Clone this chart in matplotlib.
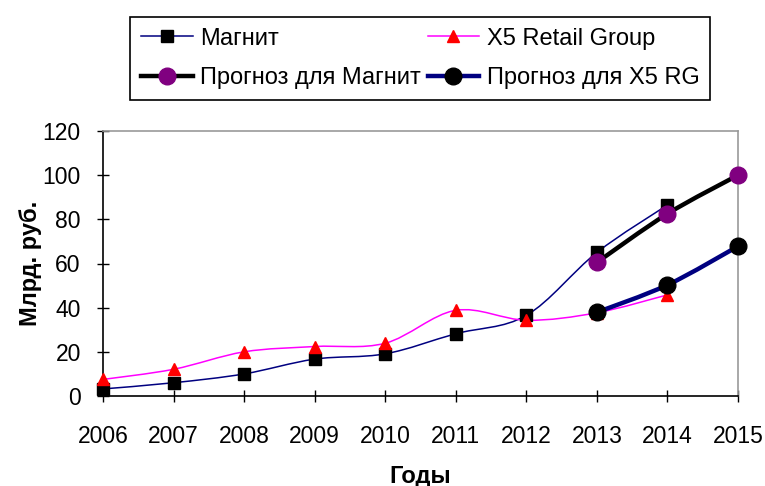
import matplotlib
matplotlib.use('Agg')
import matplotlib.pyplot as plt
from matplotlib.path import Path
from matplotlib.patches import PathPatch
from matplotlib.lines import Line2D

plt.rcParams['font.family'] = ['Liberation Sans', 'DejaVu Sans']

# ========== Data ==========
years = [2006, 2007, 2008, 2009, 2010, 2011, 2012, 2013, 2014]
magnit = [3.2, 6.0, 10.0, 16.7, 19.1, 28.2, 36.5, 65.0, 86.5]
x5 = [7.5, 12.1, 20.0, 22.4, 23.9, 38.8, 34.3, 37.7, 45.8]

forecast_years = [2013, 2014, 2015]
forecast_magnit = [60.5, 82.5, 100.0]
forecast_x5 = [37.9, 50.3, 67.8]

x_ticks = list(range(2006, 2016))
y_ticks = [0, 20, 40, 60, 80, 100, 120]


def smooth_path(xs, ys, k=1/6):
    """Excel-like smoothed line as a cubic bezier path through the points"""
    verts = [(xs[0], ys[0])]
    codes = [Path.MOVETO]
    n = len(xs)
    for i in range(n - 1):
        p0 = (xs[max(i - 1, 0)], ys[max(i - 1, 0)])
        p1 = (xs[i], ys[i])
        p2 = (xs[i + 1], ys[i + 1])
        p3 = (xs[min(i + 2, n - 1)], ys[min(i + 2, n - 1)])
        c1 = (p1[0] + (p2[0] - p0[0]) * k, p1[1] + (p2[1] - p0[1]) * k)
        c2 = (p2[0] - (p3[0] - p1[0]) * k, p2[1] - (p3[1] - p1[1]) * k)
        verts += [c1, c2, p2]
        codes += [Path.CURVE4] * 3
    return Path(verts, codes)


def draw_series(ax, xs, ys, color, lw, marker, mfc, ms, z):
    patch = PathPatch(smooth_path(xs, ys), facecolor='none', edgecolor=color,
                      lw=lw, zorder=z, capstyle='round', joinstyle='round')
    ax.add_patch(patch)
    ax.plot(xs, ys, linestyle='none', marker=marker, markerfacecolor=mfc,
            markeredgecolor=mfc, markersize=ms, zorder=z + 0.5, clip_on=False)
    return Line2D([], [], color=color, lw=lw, marker=marker, markerfacecolor=mfc,
                  markeredgecolor=mfc, markersize=ms)


fig = plt.figure(figsize=(7.65, 4.86), dpi=100)
ax = fig.add_axes([103 / 765, 1 - 396 / 486, 635 / 765, 265 / 486])

h_m = draw_series(ax, years, magnit, '#000080', 1.1, 's', 'black', 8, 3)
h_x = draw_series(ax, years, x5, '#FF00FF', 1.1, '^', '#FF0000', 9, 3)
h_pm = draw_series(ax, forecast_years, forecast_magnit, 'black', 3.2, 'o', '#800080', 12, 4)
h_px = draw_series(ax, forecast_years, forecast_x5, '#000080', 3.2, 'o', 'black', 12, 4)

ax.set_xlim(2006, 2015)
ax.set_ylim(0, 120)
ax.set_xticks(x_ticks)
ax.set_yticks(y_ticks)
ax.tick_params(axis='both', direction='inout', length=8, width=1, labelsize=16.5,
               colors='black')
ax.tick_params(axis='x', pad=17)
ax.tick_params(axis='y', pad=12)
for side in ['top', 'right']:
    ax.spines[side].set_color('#999999')
    ax.spines[side].set_linewidth(1.2)
for side in ['left', 'bottom']:
    ax.spines[side].set_color('black')
    ax.spines[side].set_linewidth(1.2)

# Axis titles
fig.text(420.5 / 765, 1 - 476 / 486, 'Годы', ha='center', va='center',
         fontsize=17, weight='bold')
fig.text(30 / 765, 1 - 263 / 486, 'Млрд. руб.', ha='center', va='center',
         rotation=90, fontsize=17, weight='bold')

leg = fig.legend([h_m, h_pm, h_x, h_px],
                 ['Магнит', 'Прогноз для Магнит', 'X5 Retail Group', 'Прогноз для X5 RG'],
                 ncol=2, loc='center', bbox_to_anchor=(0.549, 0.8796),
                 fontsize=17, frameon=True, fancybox=False, framealpha=1,
                 edgecolor='black', handlelength=2.2, handletextpad=0.3,
                 columnspacing=0.3, labelspacing=0.75, borderpad=0.45)
leg.get_frame().set_linewidth(1.2)

fig.savefig('out.png', dpi=100)
